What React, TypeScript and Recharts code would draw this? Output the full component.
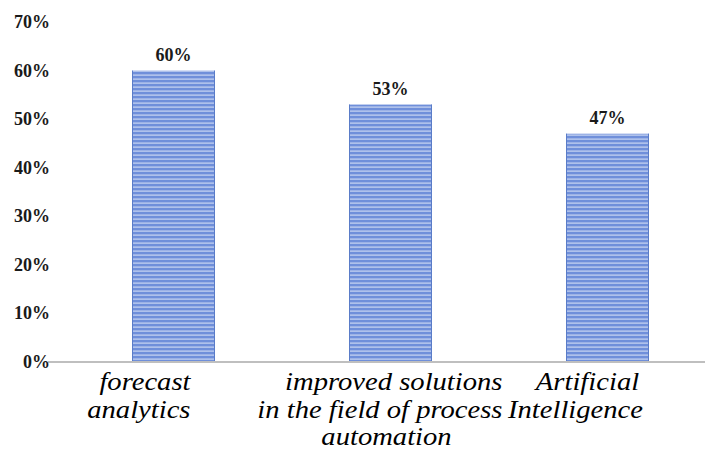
import React from 'react';
import { BarChart, Bar, XAxis, YAxis, LabelList } from 'recharts';

const categories = ['forecast analytics', 'improved solutions in the field of process automation', 'Artificial Intelligence'];
const categoryLines = [
  ['forecast', 'analytics'],
  ['improved solutions', 'in the field of process', 'automation'],
  ['Artificial', 'Intelligence'],
];
const shares = [60, 53, 47];
const yTicks = [0, 10, 20, 30, 40, 50, 60, 70];

const data = categories.map((name, i) => ({ name, value: shares[i] }));

const serif = "'Liberation Serif', 'Times New Roman', Times, serif";

// how each wrapped label line sits relative to its category centre (anchor, dx)
const lineLayout: [string, number][][] = [
  [['end', 17], ['end', 17]],
  [['end', 112], ['end', 112], ['middle', -4]],
  [['middle', -20], ['middle', -32]],
];

const CategoryTick = (props: any) => {
  const { x, y, index } = props;
  const lines = categoryLines[index] || [];
  return (
    <g>
      {lines.map((line, i) => {
        const [anchor, dx] = lineLayout[index][i];
        return (
          <text
            key={i}
            transform={`translate(${x + dx},${y + 20 + i * 27.5}) scale(1.1,1)`}
            textAnchor={anchor}
            style={{ fontFamily: serif, fontStyle: 'italic', fontSize: 26 }}
            fill="#000"
          >
            {line}
          </text>
        );
      })}
    </g>
  );
};

const PercentTick = (props: any) => {
  const { x, y, payload } = props;
  return (
    <text x={x + 2} y={y + 6} textAnchor="end" style={{ fontFamily: serif, fontWeight: 'bold', fontSize: 18 }} fill="#1a1a1a">
      {payload.value}%
    </text>
  );
};

const StripedBar = (props: any) => {
  const { x, y, width, height } = props;
  if (!height || height <= 0) return null;
  return (
    <g>
      <rect x={x} y={y} width={width} height={height} fill="url(#barStripes)" />
      <line x1={x + 0.5} y1={y} x2={x + 0.5} y2={y + height} stroke="#5a7cc8" strokeWidth={1} />
      <line x1={x + width - 0.5} y1={y} x2={x + width - 0.5} y2={y + height} stroke="#5a7cc8" strokeWidth={1} />
    </g>
  );
};

export default function App() {
  return (
    <div style={{ position: 'fixed', left: 0, top: 0, width: 705, height: 452, overflow: 'hidden', background: '#fff', fontFamily: serif }}>
      <BarChart width={720} height={452} data={data} margin={{ top: 22, right: 4, bottom: 0, left: 0 }}>
        <defs>
          <pattern id="barStripes" patternUnits="userSpaceOnUse" width={8} height={4}>
            <rect x={0} y={0} width={8} height={4} fill="#6f8fda" />
            <rect x={0} y={2.5} width={8} height={1.2} fill="#c9d6f3" />
          </pattern>
        </defs>
        <XAxis
          dataKey="name"
          height={90}
          tickLine={false}
          axisLine={{ stroke: '#bfbfbf', strokeWidth: 2 }}
          padding={{ left: 17, right: 0 }}
          interval={0}
          tick={<CategoryTick />}
        />
        <YAxis
          width={48}
          domain={[0, 70]}
          ticks={yTicks}
          interval={0}
          axisLine={false}
          tickLine={false}
          tickSize={0}
          tickMargin={0}
          tick={<PercentTick />}
        />
        <Bar dataKey="value" barSize={83} shape={<StripedBar />} isAnimationActive={false}>
          <LabelList
            dataKey="value"
            position="top"
            offset={10}
            formatter={(v: any) => `${v}%`}
            style={{ fontFamily: serif, fontWeight: 'bold', fontSize: 18, fill: '#1a1a1a' }}
          />
        </Bar>
      </BarChart>
    </div>
  );
}
